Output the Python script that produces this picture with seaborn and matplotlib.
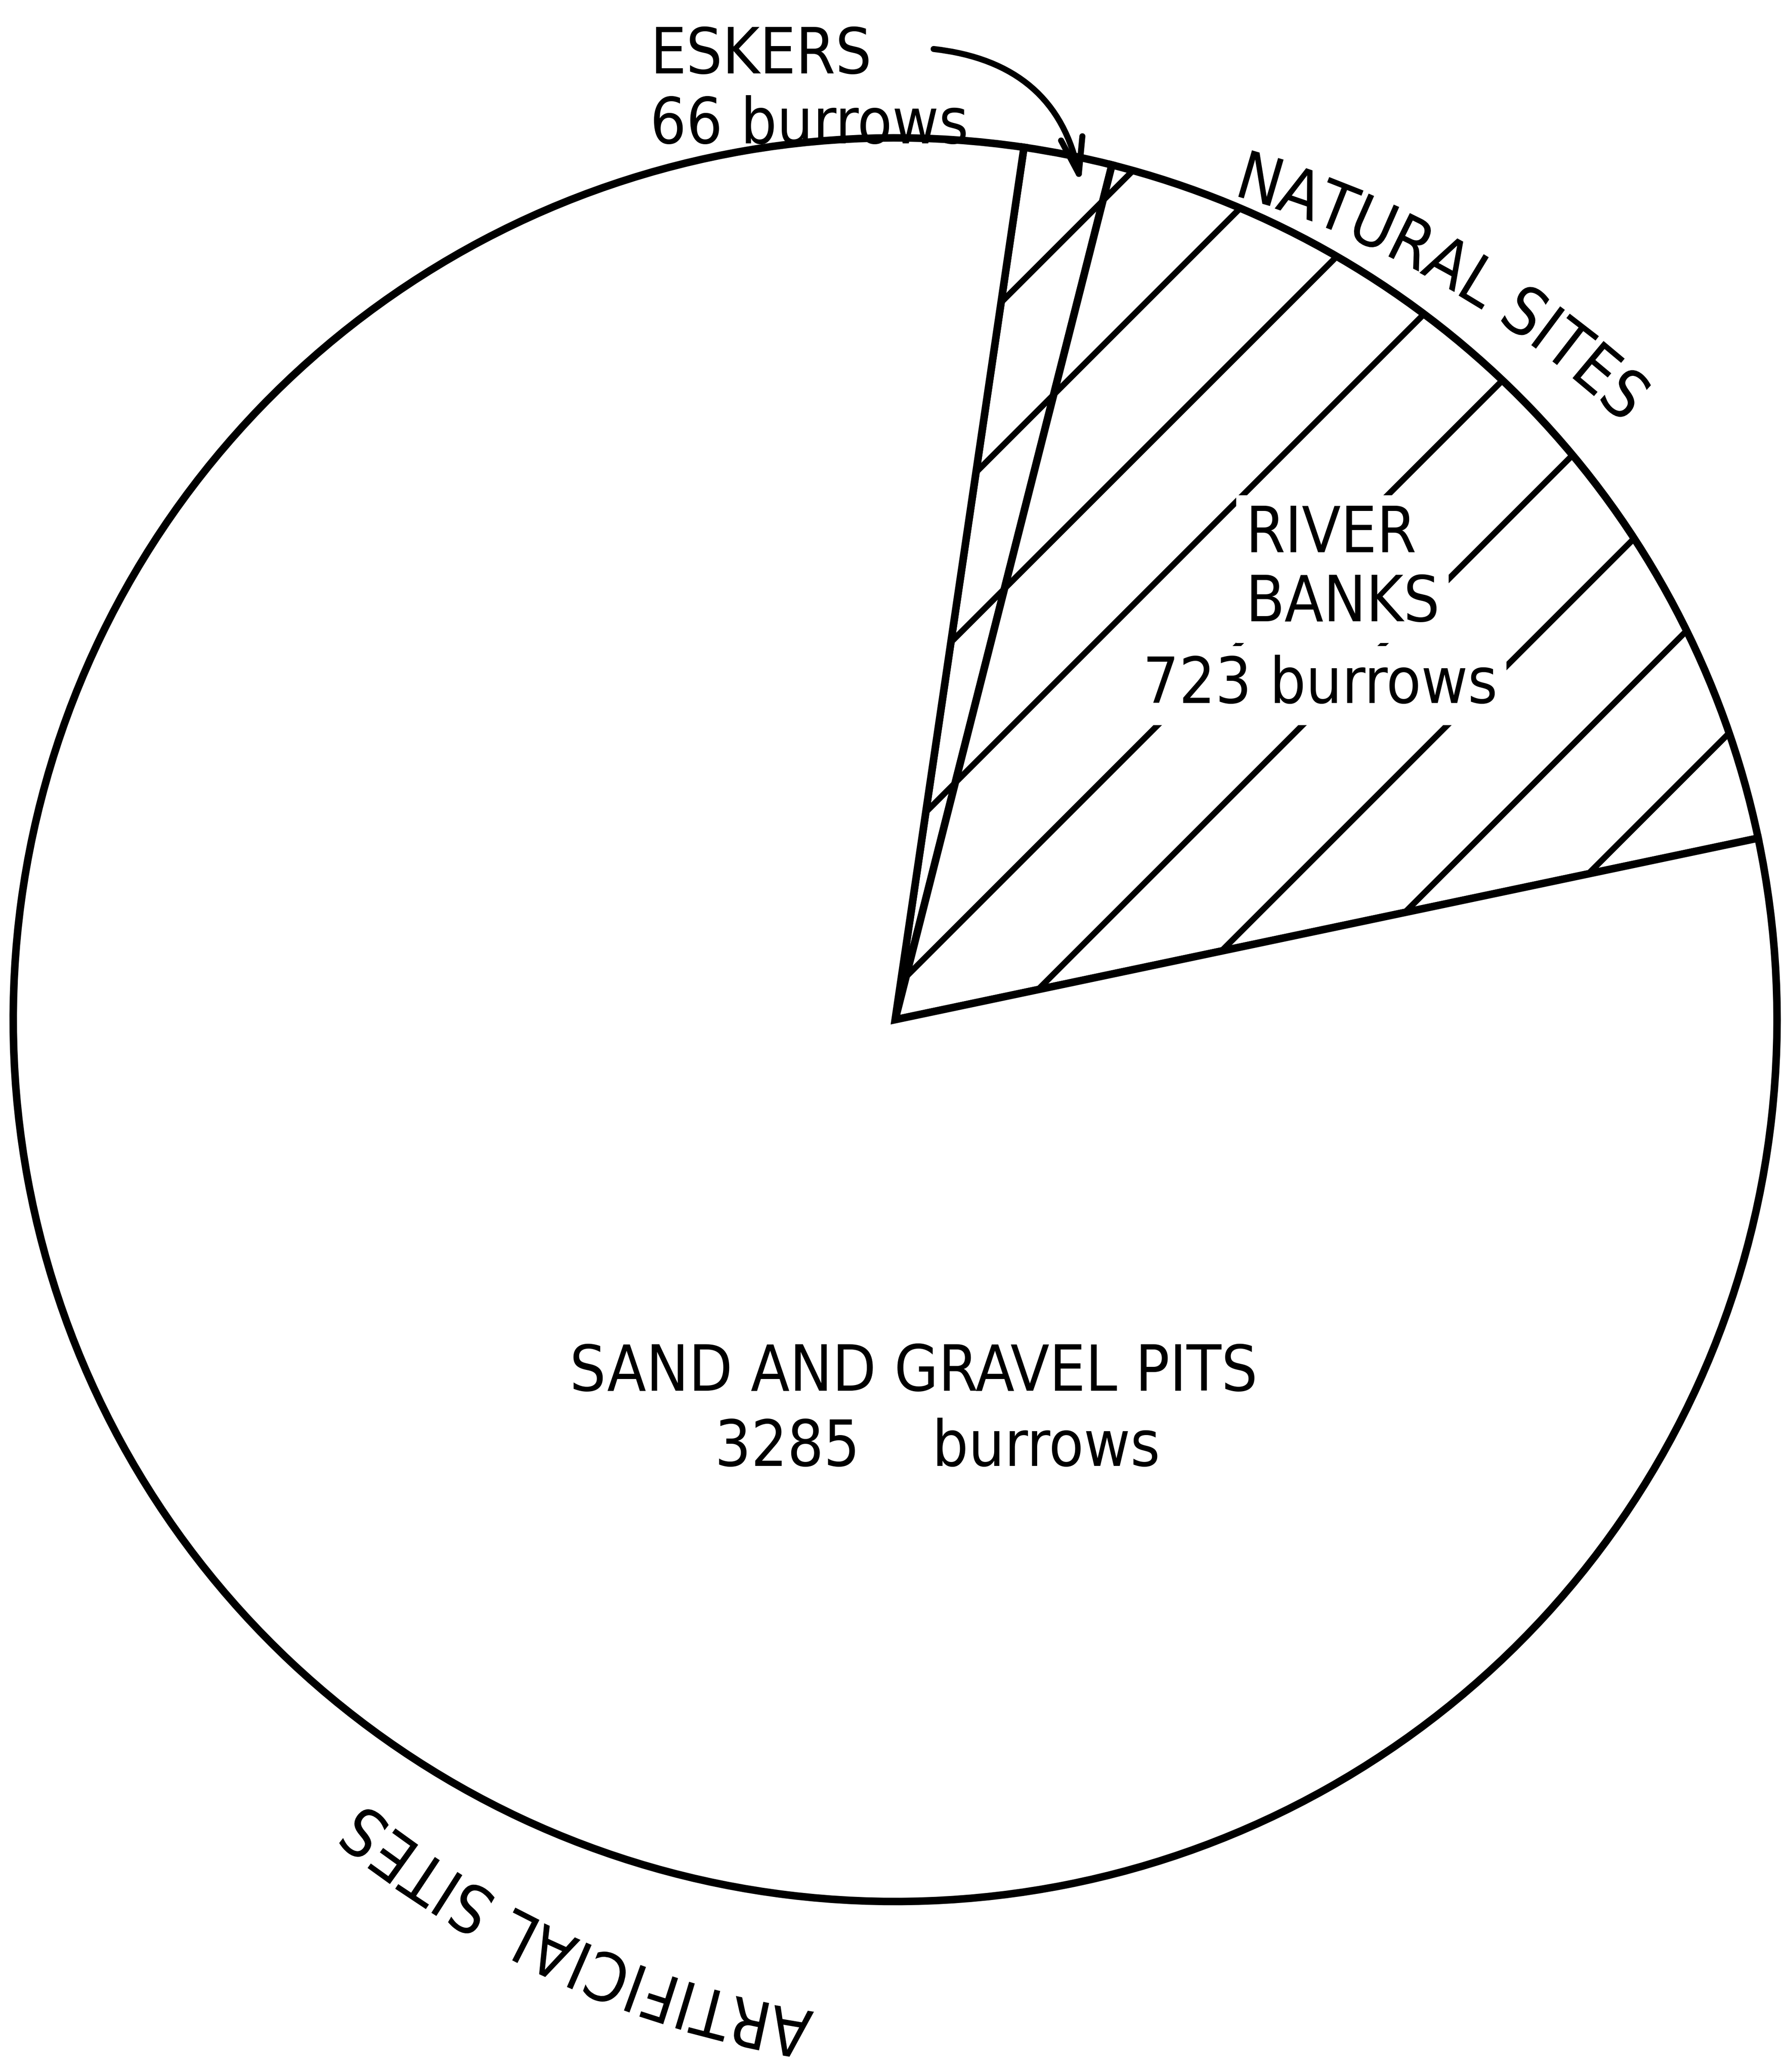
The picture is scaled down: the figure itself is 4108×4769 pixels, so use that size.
import numpy as np
import seaborn as sns
import matplotlib.pyplot as plt
import matplotlib.patheffects as pe
from matplotlib.font_manager import FontProperties, findfont, get_font
from matplotlib.ft2font import LoadFlags

# burrow counts per site type
sites = ["ESKERS", "RIVER BANKS", "SAND AND GRAVEL PITS"]
burrows = [66, 723, 3285]
hatches = ["/", "/", ""]

sns.set_theme(style="white")
plt.rcParams["font.family"] = ["DejaVu Sans"]
plt.rcParams["font.stretch"] = "condensed"
plt.rcParams["text.color"] = "black"
plt.rcParams["hatch.linewidth"] = 1.0
plt.rcParams["hatch.color"] = "black"

XLIM = (-1.015, 1.009)
YLIM = (-1.193, 1.156)
W_IN, H_IN, DPI = 4.108, 4.769, 1000
PT = (XLIM[1] - XLIM[0]) / (W_IN * 72)   # data units per point


def arc_text(ax, text, cx, cy, r, phi0, phi1, size):
    # letters along an arc (angles clockwise from top),
    # first / last letter centres land on phi0 / phi1
    fp = FontProperties(family="DejaVu Sans", stretch="condensed", size=size)
    font = get_font(findfont(fp))
    font.set_size(size, 72)
    adv = []
    for ch in text:
        g = font.load_char(ord(ch), flags=LoadFlags.NO_HINTING)
        adv.append(g.linearHoriAdvance / 65536)
    pen = np.concatenate([[0], np.cumsum(adv)[:-1]])
    cen = pen + np.array(adv) / 2
    r_pt = r / PT
    span = np.radians(phi1 - phi0) * r_pt
    n = len(text)
    extra = (span - (cen[-1] - cen[0])) / (n - 1)
    r_base = r - 0.36 * size * PT
    for i, ch in enumerate(text):
        if ch == " ":
            continue
        pos = pen[i] - cen[0] + i * extra
        phi = phi0 + np.degrees(pos / r_pt)
        a = np.radians(phi)
        # drawn as path so rotated glyphs keep their side bearings
        ax.text(cx + r_base * np.sin(a), cy + r_base * np.cos(a), ch, rotation=-phi,
                ha="left", va="baseline", rotation_mode="anchor",
                fontsize=size, fontstretch="condensed",
                path_effects=[pe.Normal()])


fig = plt.figure(figsize=(W_IN, H_IN), dpi=DPI)
ax = fig.add_axes([0, 0, 1, 1])

wedges, _ = ax.pie(burrows, startangle=81.6, counterclock=False,
                   colors=["white"] * 3, hatch=hatches,
                   wedgeprops=dict(edgecolor="black", linewidth=1.25))

ax.set_xlim(*XLIM)
ax.set_ylim(*YLIM)
ax.axis("off")

fs = 10.5
ax.text(-0.278, 1.073, "ESKERS", ha="left", va="baseline", fontsize=fs)
ax.text(-0.278, 0.994, f"{burrows[0]} burrows", ha="left", va="baseline", fontsize=fs)

box = dict(facecolor="white", edgecolor="none", pad=1.5)
ax.text(0.397, 0.530, "RIVER", ha="left", va="baseline", fontsize=fs, bbox=box)
ax.text(0.397, 0.452, "BANKS", ha="left", va="baseline", fontsize=fs, bbox=box)
ax.text(0.482, 0.359, f"{burrows[1]} burrows", ha="center", va="baseline",
        fontsize=fs, bbox=box)

ax.text(0.021, -0.421, sites[2], ha="center", va="baseline", fontsize=fs)
ax.text(0.048, -0.506, f"{burrows[2]}    burrows", ha="center", va="baseline", fontsize=fs)

ax.annotate("", xy=(0.213, 0.934), xytext=(0.030, 1.102),
            arrowprops=dict(arrowstyle="->,head_length=0.5,head_width=0.15",
                            connectionstyle="arc3,rad=-0.4", color="black", lw=1.0))

apex = (0.085, -0.079)
arc_text(ax, "NATURAL SITES", apex[0], apex[1], 1.084, 17.7, 43.3, 11)
arc_text(ax, "ARTIFICIAL SITES", apex[0], apex[1], 1.088, 190.8, 219.2, 11)

fig.savefig("out.png", dpi=DPI, facecolor="white")
